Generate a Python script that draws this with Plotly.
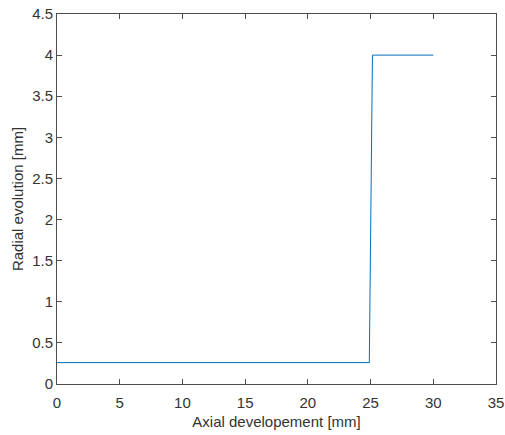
import plotly.graph_objects as go

x_vals = [0, 24.9, 25.15, 30]
y_vals = [0.26, 0.26, 4.0, 4.0]
x_ticks = [0, 5, 10, 15, 20, 25, 30, 35]
y_ticks = [0, 0.5, 1, 1.5, 2, 2.5, 3, 3.5, 4, 4.5]

FONT = "Liberation Sans, Arial"
TXT = "#333333"

fig = go.Figure()
fig.add_trace(go.Scatter(x=x_vals, y=y_vals, mode="lines",
                         line=dict(color="#0072BD", width=1), showlegend=False,
                         hoverinfo="skip"))

axis_common = dict(showline=True, linecolor="#4d4d4d", linewidth=1, mirror="ticks",
                   ticks="inside", ticklen=5, tickcolor="#4d4d4d", showgrid=False,
                   zeroline=False, automargin=False,
                   tickfont=dict(family=FONT, size=15, color=TXT))

fig.update_layout(
    width=505, height=435,
    margin=dict(l=57, r=9, t=14, b=51),
    paper_bgcolor="white", plot_bgcolor="white",
    xaxis=dict(range=[0, 35], tickvals=x_ticks, ticktext=[str(v) for v in x_ticks],
               ticklabelstandoff=5,
               title=dict(text="Axial developement [mm]", standoff=6,
                          font=dict(family=FONT, size=15, color=TXT)),
               **axis_common),
    yaxis=dict(range=[0, 4.5], tickvals=y_ticks, ticktext=[f"{v:g}" for v in y_ticks],
               title=dict(text="Radial evolution [mm]", standoff=4,
                          font=dict(family=FONT, size=15, color=TXT)),
               **axis_common),
)

fig.write_html("out.html", config={"displayModeBar": False},
               post_script="document.body.style.margin='0';document.body.style.overflow='hidden';")
